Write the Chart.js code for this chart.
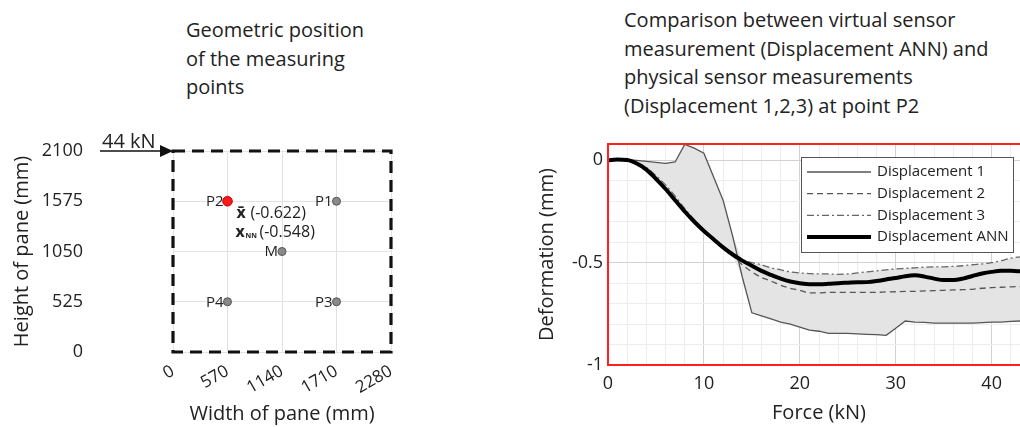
<!DOCTYPE html>
<html>
<head>
<meta charset="utf-8">
<script src="https://cdn.jsdelivr.net/npm/chart.js@4.4.1/dist/chart.umd.min.js"></script>
<style>
html,body{margin:0;padding:0;width:1020px;height:427px;overflow:hidden;background:#fff;font-family:'Open Sans',sans-serif;color:#222}
.title{position:absolute;font-size:20px;line-height:28.5px;white-space:nowrap}
#t1{left:186px;top:16px}
#t2{left:624px;top:6px}
#w1{position:absolute;left:0;top:0;width:420px;height:427px}
#w2{position:absolute;left:520px;top:0;width:530px;height:427px}
</style>
</head>
<body>
<div class="title" id="t1">Geometric position<br>of the measuring<br>points</div>
<div class="title" id="t2">Comparison between virtual sensor<br>measurement (Displacement ANN) and<br>physical sensor measurements<br>(Displacement 1,2,3) at point P2</div>
<div id="w1"><canvas id="pane"></canvas></div>
<div id="w2"><canvas id="disp"></canvas></div>
<script>
// measuring points on the pane
const paneNames=['P1','P2','P3','P4','M']
const paneX=[1710,570,1710,570,1140]
const paneY=[1575,1575,525,525,1050]
const paneTicksX=[0,570,1140,1710,2280]
const paneTicksY=[0,525,1050,1575,2100]
const loadLabel='44 kN'
const meanP2=-0.622
const annP2=-0.548

// deformation at P2 vs force
const force=[0,1,2,3,4,5,6,7,8,9,10,11,12,13,14,15,16,17,18,19,20,21,22,23,24,25,26,27,28,29,30,31,32,33,34,35,36,37,38,39,40,41,42,43,44]
const disp1=[0,0.005,0.003,0,-0.005,-0.01,-0.015,-0.008,0.078,0.06,0.035,-0.08,-0.195,-0.37,-0.57,-0.745,-0.76,-0.775,-0.79,-0.8,-0.815,-0.83,-0.835,-0.845,-0.845,-0.845,-0.848,-0.85,-0.852,-0.855,-0.82,-0.785,-0.79,-0.792,-0.795,-0.795,-0.795,-0.795,-0.795,-0.793,-0.79,-0.79,-0.787,-0.785,-0.785]
const disp2=[0,0.004,0.001,-0.016,-0.047,-0.092,-0.142,-0.197,-0.252,-0.302,-0.347,-0.387,-0.427,-0.465,-0.51,-0.545,-0.572,-0.59,-0.61,-0.625,-0.635,-0.648,-0.648,-0.645,-0.645,-0.645,-0.645,-0.645,-0.645,-0.643,-0.642,-0.64,-0.64,-0.638,-0.637,-0.635,-0.633,-0.632,-0.63,-0.625,-0.622,-0.62,-0.618,-0.617,-0.617]
const disp3=[0,0.004,0.002,-0.01,-0.035,-0.075,-0.12,-0.175,-0.235,-0.29,-0.34,-0.385,-0.425,-0.46,-0.485,-0.5,-0.51,-0.525,-0.535,-0.545,-0.55,-0.553,-0.555,-0.555,-0.557,-0.555,-0.55,-0.545,-0.54,-0.535,-0.53,-0.528,-0.525,-0.522,-0.52,-0.52,-0.518,-0.515,-0.51,-0.506,-0.5,-0.49,-0.478,-0.472,-0.47]
const dispANN=[0,0.004,0.002,-0.015,-0.045,-0.09,-0.14,-0.195,-0.25,-0.3,-0.345,-0.385,-0.425,-0.46,-0.49,-0.515,-0.54,-0.56,-0.578,-0.592,-0.6,-0.605,-0.605,-0.603,-0.6,-0.598,-0.596,-0.595,-0.59,-0.582,-0.575,-0.566,-0.562,-0.568,-0.578,-0.585,-0.585,-0.578,-0.565,-0.553,-0.545,-0.54,-0.54,-0.542,-0.545]
const forceTicks=[0,10,20,30,40]
const deformTicks=[-1,-0.5,0]
const deformGrid=[-1,-0.9,-0.8,-0.7,-0.6,-0.5,-0.4,-0.3,-0.2,-0.1,0]

const txt='#222'
const xy=(a)=>a.map((v,i)=>({x:force[i],y:v}))
const upper=disp1.map((v,i)=>Math.max(v,disp2[i],disp3[i]))
const lower=disp1.map((v,i)=>Math.min(v,disp2[i],disp3[i]))

const paneDecor={
  id:'paneDecor',
  afterDraw(chart){
    const {ctx,chartArea:a,scales}=chart
    ctx.save()
    // dashed pane outline
    ctx.strokeStyle='#111'
    ctx.lineWidth=3.2
    ctx.setLineDash([12,7])
    ctx.strokeRect(a.left,a.top,a.right-a.left,a.bottom-a.top)
    ctx.setLineDash([])
    // load arrow at the top left corner
    const ax=scales.x.getPixelForValue(0), ay=scales.y.getPixelForValue(2100)
    ctx.strokeStyle='#111'
    ctx.lineWidth=1.3
    ctx.beginPath(); ctx.moveTo(ax-73,ay); ctx.lineTo(ax-10,ay); ctx.stroke()
    ctx.fillStyle='#111'
    ctx.beginPath(); ctx.moveTo(ax,ay); ctx.lineTo(ax-13,ay-6); ctx.lineTo(ax-13,ay+6); ctx.closePath(); ctx.fill()
    ctx.fillStyle=txt
    ctx.font='20px "Open Sans"'
    ctx.textAlign='left'; ctx.textBaseline='middle'
    ctx.fillText(loadLabel,ax-71,ay-9)
    // point names
    ctx.font='15px "Open Sans"'
    ctx.textAlign='right'
    paneNames.forEach((n,i)=>{
      ctx.fillText(n,scales.x.getPixelForValue(paneX[i])-4,scales.y.getPixelForValue(paneY[i])+0.5)
    })
    // values at P2
    const px=scales.x.getPixelForValue(paneX[1]), py=scales.y.getPixelForValue(paneY[1])
    ctx.textAlign='left'
    ctx.font='bold 16px "Open Sans"'
    ctx.fillText('x\u0304',px+9,py+12)
    ctx.font='16px "Open Sans"'
    ctx.fillText('('+meanP2+')',px+23,py+12)
    ctx.font='bold 16px "Open Sans"'
    ctx.fillText('x',px+8,py+31)
    ctx.font='bold 7px "Open Sans"'
    ctx.fillText('NN',px+18,py+35)
    ctx.font='16px "Open Sans"'
    ctx.fillText('('+annP2+')',px+32,py+31)
    ctx.restore()
  }
}

new Chart(document.getElementById('pane'),{
  type:'scatter',
  data:{
    datasets:[{
      data:paneX.map((v,i)=>({x:v,y:paneY[i]})),
      pointRadius:paneNames.map(n=>n=='P2'?4.8:4),
      pointBackgroundColor:paneNames.map(n=>n=='P2'?'#ff1a1a':'#8a8a8a'),
      pointBorderColor:paneNames.map(n=>n=='P2'?'#c00000':'#555'),
      pointBorderWidth:1
    }]
  },
  options:{
    responsive:true,maintainAspectRatio:false,animation:false,
    layout:{padding:{top:151,right:29,left:0,bottom:0}},
    plugins:{legend:{display:false},tooltip:{enabled:false}},
    scales:{
      x:{
        type:'linear',min:0,max:2280,
        afterBuildTicks:s=>{s.ticks=paneTicksX.map(v=>({value:v}))},
        afterFit:s=>{s.height=75},
        grid:{color:'#e2e2e2',drawTicks:false},
        border:{display:false},
        ticks:{color:txt,font:{family:'Open Sans',size:17},padding:9,minRotation:30,maxRotation:30,autoSkip:false,callback:v=>String(v)},
        title:{display:true,text:'Width of pane (mm)',color:txt,font:{family:'Open Sans',size:20},padding:{top:0,bottom:1}}
      },
      y:{
        type:'linear',min:0,max:2100,
        afterBuildTicks:s=>{s.ticks=paneTicksY.map(v=>({value:v}))},
        afterFit:s=>{s.width=173},
        grid:{color:'#e2e2e2',drawTicks:true,tickLength:88,tickColor:'rgba(0,0,0,0)'},
        border:{display:false},
        ticks:{color:txt,font:{family:'Open Sans',size:18},padding:2,autoSkip:false,callback:v=>String(v)},
        title:{display:true,text:'Height of pane (mm)',color:txt,font:{family:'Open Sans',size:20},padding:{top:10,bottom:0}}
      }
    }
  },
  plugins:[paneDecor]
})

const dispFrame={
  id:'dispFrame',
  afterDraw(chart){
    const {ctx,chartArea:a}=chart
    ctx.save()
    ctx.strokeStyle='#ff2020'
    ctx.lineWidth=2
    ctx.strokeRect(a.left,a.top,a.right-a.left,a.bottom-a.top)
    // legend box
    const lx=a.left+193, ly=a.top+13, lw=212, lh=95
    ctx.fillStyle='#fff'
    ctx.fillRect(lx,ly,lw,lh)
    ctx.strokeStyle='#555'
    ctx.lineWidth=1
    ctx.strokeRect(lx+0.5,ly+0.5,lw,lh)
    const items=chart.data.datasets.filter(d=>d.label)
    ctx.font='15px "Open Sans"'
    ctx.textBaseline='middle'
    ctx.textAlign='left'
    items.forEach((d,i)=>{
      const yy=ly+15+i*21.7
      ctx.strokeStyle=d.borderColor
      ctx.lineWidth=d.borderWidth
      ctx.setLineDash(d.borderDash||[])
      ctx.beginPath(); ctx.moveTo(lx+6,yy); ctx.lineTo(lx+70,yy); ctx.stroke()
      ctx.setLineDash([])
      ctx.fillStyle=txt
      ctx.fillText(d.label,lx+76,yy)
    })
    ctx.restore()
  }
}

const near=(v,list)=>list.some(t=>Math.abs(v-t)<1e-6)

new Chart(document.getElementById('disp'),{
  type:'line',
  data:{
    datasets:[
      {data:xy(upper),borderWidth:0,pointRadius:0,fill:false,order:10,tension:0},
      {data:xy(lower),borderWidth:0,pointRadius:0,fill:'-1',backgroundColor:'#e4e4e4',order:10,tension:0},
      {label:'Displacement 1',data:xy(disp1),borderColor:'#555',borderWidth:1.3,pointRadius:0,tension:0,order:3},
      {label:'Displacement 2',data:xy(disp2),borderColor:'#555',borderWidth:1.3,borderDash:[6,4],pointRadius:0,cubicInterpolationMode:'monotone',order:2},
      {label:'Displacement 3',data:xy(disp3),borderColor:'#666',borderWidth:1.3,borderDash:[7,3,2,3],pointRadius:0,cubicInterpolationMode:'monotone',order:1},
      {label:'Displacement ANN',data:xy(dispANN),borderColor:'#000',borderWidth:4,pointRadius:0,cubicInterpolationMode:'monotone',order:0}
    ]
  },
  options:{
    responsive:true,maintainAspectRatio:false,animation:false,
    layout:{padding:{top:144,right:20,left:0,bottom:0}},
    plugins:{legend:{display:false},tooltip:{enabled:false},filler:{drawTime:'beforeDatasetsDraw'}},
    scales:{
      x:{
        type:'linear',min:0,max:44,
        ticks:{stepSize:2,autoSkip:false,maxRotation:0,color:txt,font:{family:'Open Sans',size:18},padding:8,
          callback:v=>near(v,forceTicks)?String(v):''},
        afterFit:s=>{s.height=62},
        grid:{drawTicks:false,color:c=>near(c.tick.value,forceTicks)?'#d2d2d2':'#ededed'},
        border:{display:false},
        title:{display:true,text:'Force (kN)',color:txt,font:{family:'Open Sans',size:20},padding:{top:0,bottom:2}}
      },
      y:{
        type:'linear',min:-1,max:0.08,
        afterBuildTicks:s=>{s.ticks=deformGrid.map(v=>({value:v}))},
        ticks:{autoSkip:false,color:txt,font:{family:'Open Sans',size:18},padding:5,
          callback:v=>near(v,deformTicks)?String(v):''},
        afterFit:s=>{s.width=88},
        grid:{drawTicks:false,color:c=>near(c.tick.value,deformTicks)?'#d2d2d2':'#ededed'},
        border:{display:false},
        title:{display:true,text:'Deformation (mm)',color:txt,font:{family:'Open Sans',size:20},padding:{top:15,bottom:0}}
      }
    }
  },
  plugins:[dispFrame]
})
</script>
</body>
</html>
